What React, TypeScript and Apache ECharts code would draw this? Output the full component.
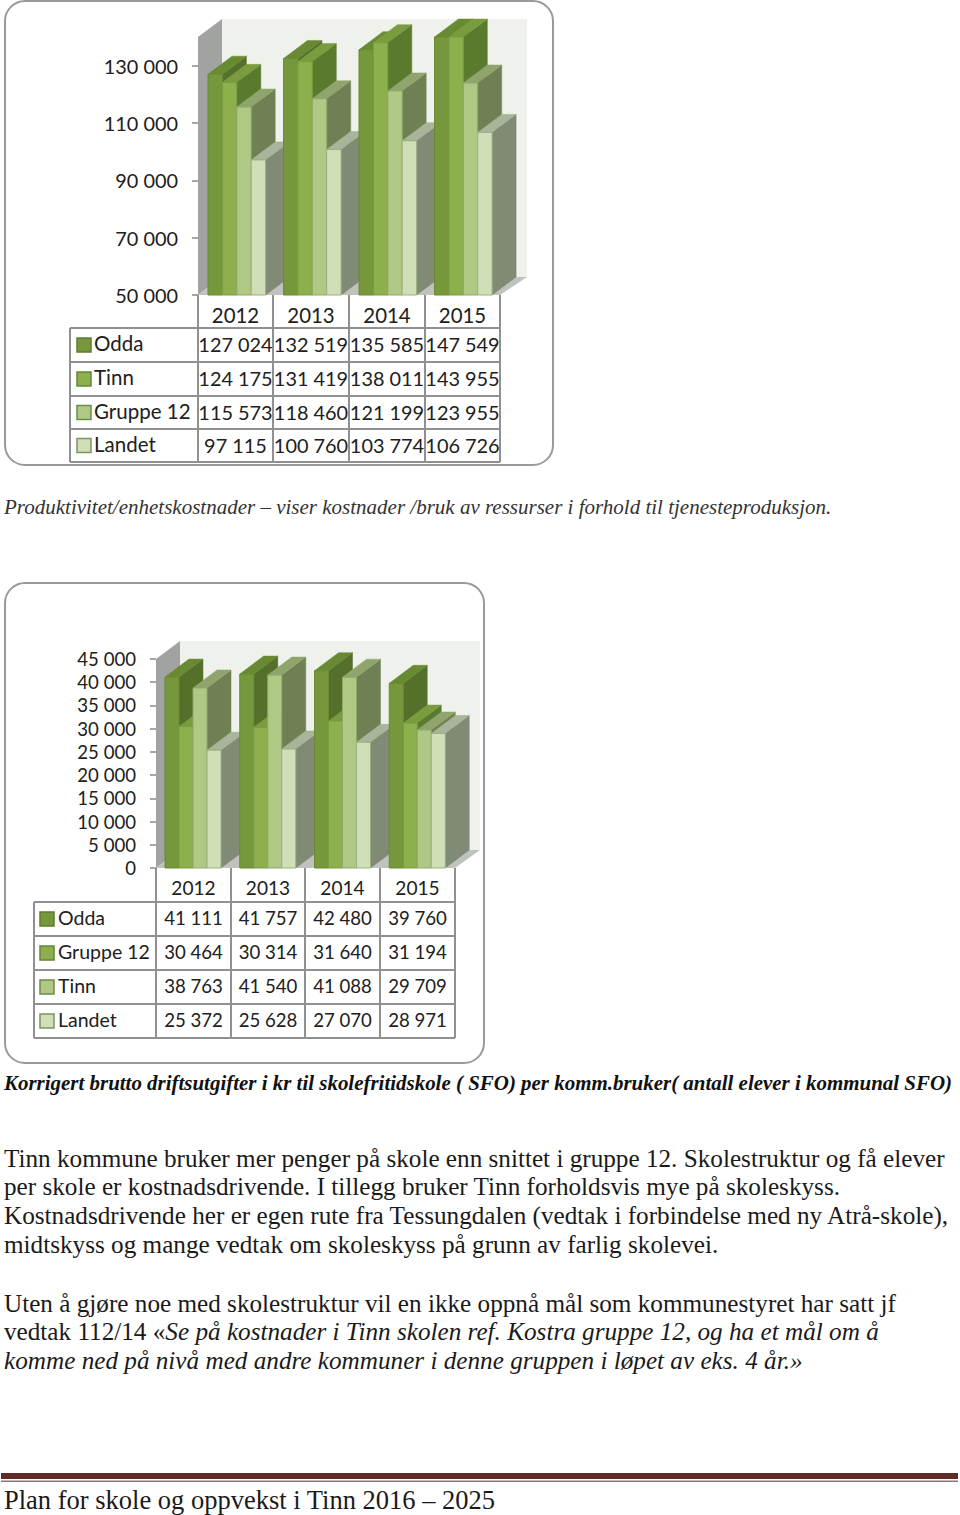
import React, { useEffect, useRef } from "react";
import * as echarts from "echarts";

const years = ["2012", "2013", "2014", "2015"];

const names1 = ["Odda", "Tinn", "Gruppe 12", "Landet"];
const odda1 = [127024, 132519, 135585, 147549];
const tinn1 = [124175, 131419, 138011, 143955];
const gruppe1 = [115573, 118460, 121199, 123955];
const landet1 = [97115, 100760, 103774, 106726];
const ticks1 = [50000, 70000, 90000, 110000, 130000];

const names2 = ["Odda", "Gruppe 12", "Tinn", "Landet"];
const odda2 = [41111, 41757, 42480, 39760];
const gruppe2 = [30464, 30314, 31640, 31194];
const tinn2 = [38763, 41540, 41088, 29709];
const landet2 = [25372, 25628, 27070, 28971];
const ticks2 = [0, 5000, 10000, 15000, 20000, 25000, 30000, 35000, 40000, 45000];

const series1 = [odda1, tinn1, gruppe1, landet1];
const series2 = [odda2, gruppe2, tinn2, landet2];

const frontColors = ["#76973b", "#8db04c", "#afc985", "#d0dfb8"];
const sideColors = ["#54702a", "#5a7a2e", "#6f8154", "#808a75"];
const topColors = ["#688a33", "#7b9c3e", "#8fa56d", "#a9b59a"];
const edgeColors = ["#6a8a35", "#7a9c40", "#8fa96a", "#9db083"];
const swatchEdges = ["#5f7d30", "#66843a", "#6f8a4c", "#7d9460"];

const caption1 = "Produktivitet/enhetskostnader – viser kostnader /bruk av ressurser i forhold til tjenesteproduksjon.";
const caption2 = "Korrigert brutto driftsutgifter i kr til skolefritidskole ( SFO) per komm.bruker( antall elever i kommunal SFO)";
const bodyLines = [
  "Tinn kommune bruker mer penger på skole enn snittet i gruppe 12. Skolestruktur og få elever",
  "per skole er kostnadsdrivende. I tillegg bruker Tinn forholdsvis mye på skoleskyss.",
  "Kostnadsdrivende her er egen rute fra Tessungdalen (vedtak i forbindelse med ny Atrå-skole),",
  "midtskyss og mange vedtak om skoleskyss på grunn av farlig skolevei.",
];
const closing1 = "Uten å gjøre noe med skolestruktur vil en ikke oppnå mål som kommunestyret har satt jf";
const closing2a = "vedtak 112/14 «";
const closing2b = "Se på kostnader i Tinn skolen ref. Kostra gruppe 12, og ha et mål om å";
const closing3 = "komme ned på nivå med andre kommuner i denne gruppen i løpet av eks. 4 år.»";
const footer = "Plan for skole og oppvekst i Tinn 2016 – 2025";

const fmt = (v: number) => String(v).replace(/\B(?=(\d{3})+$)/g, " ");
const CHART_FONT = "Lato";
const SERIF = "Liberation Serif";
const BODY_SIZE = 25.2;

type Layout = {
  left: number; right: number; top: number; bottom: number;
  dx: number; dy: number; inset: number; barW: number;
  min: number; max: number;
  columns: number[]; rows: number[]; tableLeft: number; headerY: number;
  swatchX: number; nameX: number; fontSize: number; nameSize: number; wallRight: number; labelShift: number;
};

const L1: Layout = {
  left: 198, right: 500, top: 37, bottom: 295, dx: 24, dy: 18, inset: 10, barW: 14.4,
  min: 50000, max: 140000,
  columns: [198, 273, 349, 425, 500], rows: [328, 362, 396, 429, 462], tableLeft: 70, headerY: 314,
  swatchX: 77, nameX: 94, fontSize: 19.9, nameSize: 20.5, wallRight: 527, labelShift: 0,
};
const L2: Layout = {
  left: 156, right: 455, top: 659, bottom: 868, dx: 24, dy: 18, inset: 9, barW: 14,
  min: 0, max: 45000,
  columns: [156, 231, 305, 380, 455], rows: [902, 936, 970, 1004, 1038], tableLeft: 34, headerY: 886,
  swatchX: 40, nameX: 58, fontSize: 18.6, nameSize: 19.5, wallRight: 480, labelShift: -1,
};

function barSeries(L: Layout, values: number[][], xi: number) {
  const data: number[][] = [];
  years.forEach((_, c) => values.forEach((s, k) => data.push([c, s[c], k])));
  return {
    type: "custom",
    xAxisIndex: xi,
    yAxisIndex: xi,
    clip: false,
    z: 3,
    encode: { x: 0, y: 1 },
    data,
    renderItem: (_p: any, api: any) => {
      const c = api.value(0);
      const v = Math.min(api.value(1), L.max);
      const k = api.value(2);
      const band = api.size([1, 0])[0];
      const cx = api.coord([c, L.min])[0];
      const base = api.coord([c, L.min])[1];
      const top = api.coord([c, v])[1];
      const x0 = cx - band / 2 + L.inset + k * L.barW;
      const x1 = x0 + L.barW;
      const { dx, dy } = L;
      return {
        type: "group",
        children: [
          { type: "polygon", shape: { points: [[x1, top], [x1 + dx, top - dy], [x1 + dx, base - dy], [x1, base]] }, style: { fill: sideColors[k], stroke: sideColors[k], lineWidth: 0.5 } },
          { type: "polygon", shape: { points: [[x0, top], [x0 + dx, top - dy], [x1 + dx, top - dy], [x1, top]] }, style: { fill: topColors[k], stroke: edgeColors[k], lineWidth: 0.5 } },
          { type: "rect", shape: { x: x0, y: top, width: L.barW, height: base - top }, style: { fill: frontColors[k], stroke: edgeColors[k], lineWidth: 1 } },
        ],
      };
    },
  };
}

function wallSeries(L: Layout, xi: number) {
  return {
    type: "custom",
    xAxisIndex: xi,
    yAxisIndex: xi,
    clip: false,
    z: 1,
    silent: true,
    encode: { x: 0, y: 1 },
    data: [[0, L.min]],
    renderItem: () => {
      const { left, right, top, bottom, dx, dy, wallRight } = L;
      return {
        type: "group",
        children: [
          { type: "rect", shape: { x: left + dx, y: top - dy, width: wallRight - left - dx, height: bottom - top }, style: { fill: "#eef1ec" } },
          { type: "polygon", shape: { points: [[left, top], [left + dx, top - dy], [left + dx, bottom - dy], [left, bottom]] }, style: { fill: "#a0a3a0" } },
          { type: "polygon", shape: { points: [[left, bottom], [left + dx, bottom - dy], [wallRight, bottom - dy], [right, bottom]] }, style: { fill: "#bfc2bd" } },
        ],
      };
    },
  };
}

function tableElements(L: Layout, names: string[], values: number[][]) {
  const out: any[] = [];
  const line = "#909090";
  const h = (x1: number, x2: number, y: number) => out.push({ type: "line", shape: { x1, y1: y, x2, y2: y }, style: { stroke: line, lineWidth: 2 } });
  const v = (x: number, y1: number, y2: number) => out.push({ type: "line", shape: { x1: x, y1, x2: x, y2 }, style: { stroke: line, lineWidth: 2 } });
  const text = (s: string, x: number, y: number, size: number, align: string) =>
    out.push({ type: "text", x, y, style: { text: s, fontFamily: CHART_FONT, fontSize: size, fill: "#202020", align, verticalAlign: "middle" } });
  L.rows.forEach((y) => h(L.tableLeft, L.right, y));
  v(L.tableLeft, L.rows[0], L.rows[4]);
  L.columns.forEach((x) => v(x, L.bottom, L.rows[4]));
  years.forEach((yr, c) => text(yr, (L.columns[c] + L.columns[c + 1]) / 2, L.headerY + 1, L.fontSize + 0.5, "center"));
  names.forEach((n, k) => {
    const my = (L.rows[k] + L.rows[k + 1]) / 2;
    out.push({ type: "rect", shape: { x: L.swatchX, y: my - 7, width: 14, height: 14 }, style: { fill: frontColors[k], stroke: swatchEdges[k], lineWidth: 1.5 } });
    text(n, L.nameX, my - 2, L.nameSize, "left");
    years.forEach((_, c) => text(fmt(values[k][c]), (L.columns[c] + L.columns[c + 1]) / 2, my - 1, L.fontSize, "center"));
  });
  return out;
}

function serifText(s: string, y: number, size: number, fontStyle = "normal", fontWeight = "normal", fill = "#1a1a1a") {
  return { type: "text", x: 4, y, style: { text: s, fontFamily: SERIF, fontSize: size, fontStyle, fontWeight, fill, align: "left", verticalAlign: "middle" } };
}

function axes(L: Layout, ticks: number[], i: number) {
  return {
    x: {
      type: "category", gridIndex: i, data: years,
      axisLine: { show: false }, axisTick: { show: false }, axisLabel: { show: false }, splitLine: { show: false },
    },
    y: {
      type: "value", gridIndex: i, min: L.min, max: L.max,
      axisLine: { show: false },
      splitLine: { show: false },
      axisTick: { show: true, length: 6, customValues: ticks, lineStyle: { color: "#888888", width: 1.5 } },
      axisLabel: { customValues: ticks, formatter: (v: number) => fmt(v), fontFamily: CHART_FONT, fontSize: L.fontSize, color: "#202020", margin: 20, padding: [0, 0, -L.labelShift * 2, 0] },
    },
  };
}

export default function App() {
  const ref = useRef<HTMLDivElement>(null);
  useEffect(() => {
    document.body.style.margin = "0";
    const chart = echarts.init(ref.current!, undefined, { renderer: "svg" });
    const a1 = axes(L1, ticks1, 0);
    const a2 = axes(L2, ticks2, 1);
    chart.setOption({
      animation: false,
      backgroundColor: "#ffffff",
      grid: [
        { left: L1.left, top: L1.top, width: L1.right - L1.left, height: L1.bottom - L1.top },
        { left: L2.left, top: L2.top, width: L2.right - L2.left, height: L2.bottom - L2.top },
      ],
      xAxis: [a1.x, a2.x],
      yAxis: [a1.y, a2.y],
      series: [wallSeries(L1, 0), barSeries(L1, series1, 0), wallSeries(L2, 1), barSeries(L2, series2, 1)],
      graphic: {
        elements: [
          { type: "rect", shape: { x: 5, y: 1, width: 548, height: 464, r: 20 }, style: { fill: "none", stroke: "#9a9a9a", lineWidth: 2 } },
          { type: "rect", shape: { x: 5, y: 583, width: 479, height: 480, r: 20 }, style: { fill: "none", stroke: "#9a9a9a", lineWidth: 2 } },
          ...tableElements(L1, names1, series1),
          ...tableElements(L2, names2, series2),
          serifText(caption1, 507, 21, "italic", "normal", "#333333"),
          serifText(caption2, 1083, 20.95, "italic", "bold", "#111111"),
          ...bodyLines.map((s, i) => serifText(s, [1158.5, 1186.5, 1215.5, 1244.5][i], BODY_SIZE)),
          serifText(closing1, 1303.5, BODY_SIZE),
          {
            type: "text", x: 4, y: 1331.5,
            style: {
              text: `{a|${closing2a}}{b|${closing2b}}`,
              verticalAlign: "middle", align: "left",
              rich: {
                a: { fontFamily: SERIF, fontSize: BODY_SIZE, fill: "#1a1a1a" },
                b: { fontFamily: SERIF, fontSize: BODY_SIZE, fontStyle: "italic", fill: "#1a1a1a" },
              },
            },
          },
          serifText(closing3, 1360.5, BODY_SIZE, "italic"),
          { type: "rect", shape: { x: 1, y: 1473, width: 957, height: 6 }, style: { fill: "#5f2a25" } },
          { type: "rect", shape: { x: 1, y: 1480.5, width: 957, height: 1.5 }, style: { fill: "#8a7575" } },
          serifText(footer, 1500, 26.5),
        ],
      },
    });
    return () => chart.dispose();
  }, []);
  return <div ref={ref} style={{ position: "absolute", left: 0, top: 0, width: 960, height: 1515 }} />;
}
